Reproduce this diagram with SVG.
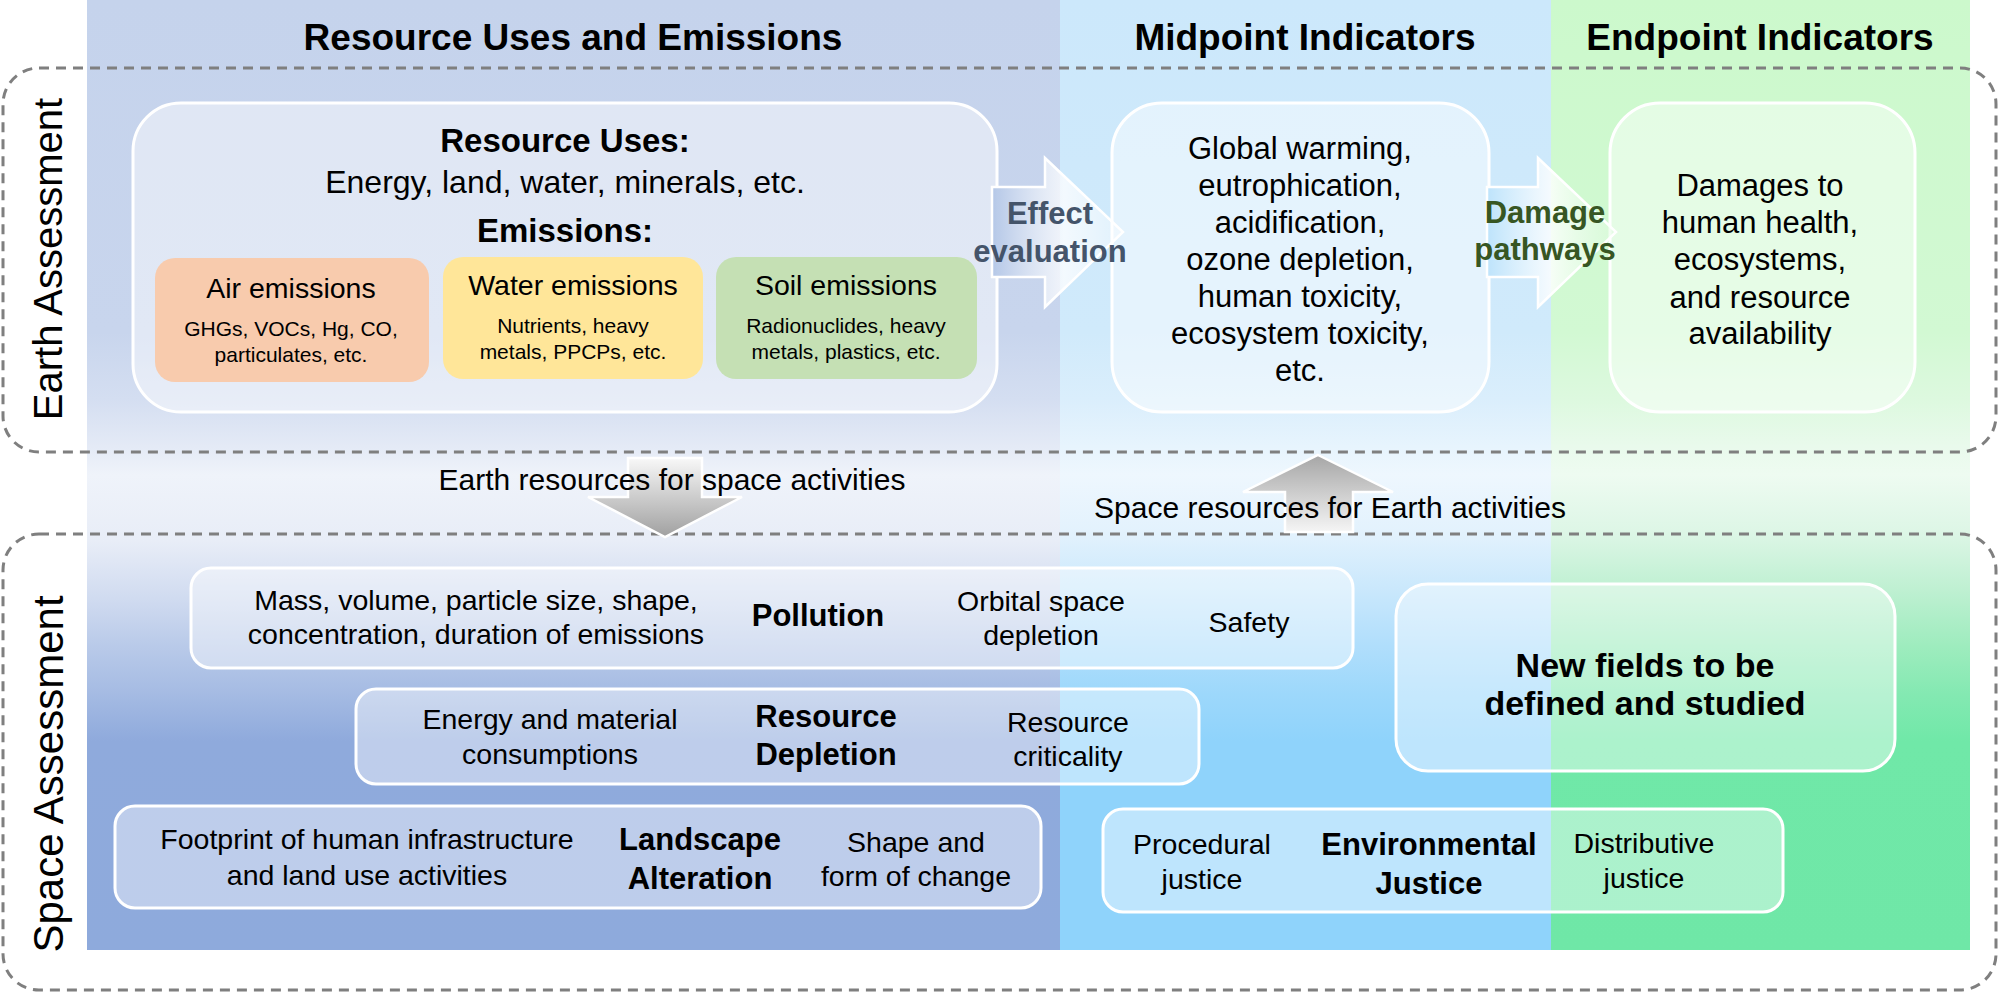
<svg xmlns="http://www.w3.org/2000/svg" width="2000" height="994" viewBox="0 0 2000 994">
<defs>
<linearGradient id="gc1" gradientUnits="userSpaceOnUse" x1="0" y1="0" x2="0" y2="950">
<stop offset="0" stop-color="#c5d3ec"/><stop offset="0.35" stop-color="#c8d5ed"/><stop offset="0.42" stop-color="#d4def1"/><stop offset="0.47" stop-color="#e4eaf6"/><stop offset="0.5" stop-color="#eff3fa"/><stop offset="0.57" stop-color="#e8edf7"/><stop offset="0.63" stop-color="#d0dbf0"/><stop offset="0.68" stop-color="#b9cae9"/><stop offset="0.73" stop-color="#a5bbe3"/><stop offset="0.78" stop-color="#8faadc"/><stop offset="1" stop-color="#8eaadc"/>
</linearGradient>
<linearGradient id="gc2" gradientUnits="userSpaceOnUse" x1="0" y1="0" x2="0" y2="950">
<stop offset="0" stop-color="#cce8fb"/><stop offset="0.35" stop-color="#d0eafb"/><stop offset="0.42" stop-color="#daeefc"/><stop offset="0.47" stop-color="#e7f4fd"/><stop offset="0.5" stop-color="#eef7fe"/><stop offset="0.56" stop-color="#e3f2fd"/><stop offset="0.62" stop-color="#cae8fc"/><stop offset="0.68" stop-color="#b0defc"/><stop offset="0.73" stop-color="#9dd8fb"/><stop offset="0.78" stop-color="#8fd3fb"/><stop offset="1" stop-color="#8fd3fb"/>
</linearGradient>
<linearGradient id="gc3" gradientUnits="userSpaceOnUse" x1="0" y1="0" x2="0" y2="950">
<stop offset="0" stop-color="#ccf9cc"/><stop offset="0.35" stop-color="#d2f9d3"/><stop offset="0.42" stop-color="#ddf9df"/><stop offset="0.47" stop-color="#e9faec"/><stop offset="0.5" stop-color="#eefbf1"/><stop offset="0.56" stop-color="#ddf6e6"/><stop offset="0.62" stop-color="#bff0d2"/><stop offset="0.68" stop-color="#9eecbe"/><stop offset="0.73" stop-color="#84e9b2"/><stop offset="0.78" stop-color="#70e8a8"/><stop offset="1" stop-color="#6fe7a7"/>
</linearGradient>
<linearGradient id="gEff" x1="0" y1="0" x2="1" y2="0">
<stop offset="0" stop-color="#b4c7e7"/><stop offset="0.55" stop-color="#ffffff" stop-opacity="0.75"/><stop offset="1" stop-color="#ffffff" stop-opacity="0.35"/>
</linearGradient>
<linearGradient id="gDam" x1="0" y1="0" x2="1" y2="0">
<stop offset="0" stop-color="#bde3fb"/><stop offset="0.5" stop-color="#ffffff" stop-opacity="0.8"/><stop offset="1" stop-color="#e0fbe0" stop-opacity="0.45"/>
</linearGradient>
<linearGradient id="gDown" x1="0" y1="0" x2="0" y2="1">
<stop offset="0" stop-color="#f8f8f8"/><stop offset="1" stop-color="#a0a0a0"/>
</linearGradient>
<linearGradient id="gUp" x1="0" y1="0" x2="0" y2="1">
<stop offset="0" stop-color="#a6a6a6"/><stop offset="1" stop-color="#f5f5f5"/>
</linearGradient>
<style>
text{font-family:"Liberation Sans",Arial,sans-serif;fill:#000;text-anchor:middle}
.hdr{font-size:37px;font-weight:bold}
.b33{font-size:33px;font-weight:bold}
.r32{font-size:32px}
.r28{font-size:28.5px}
.r21{font-size:21px}
.r31{font-size:31px}
.b31{font-size:31px;font-weight:bold}
.s28{font-size:28.5px}
.b34{font-size:34px;font-weight:bold}
.vert{font-size:40px}
.dash{fill:none;stroke:#7f7f7f;stroke-width:3;stroke-dasharray:10 7}
.box{fill:#ffffff;fill-opacity:0.45;stroke:#ffffff;stroke-width:3}
.sbox{fill:#ffffff;fill-opacity:0.42;stroke:#ffffff;stroke-width:3}
.arr{stroke:#ffffff;stroke-width:2.5}
</style>
</defs>

<g id="background">
<rect x="87" y="0" width="973" height="950" fill="url(#gc1)"/>
<rect x="1060" y="0" width="491" height="950" fill="url(#gc2)"/>
<rect x="1551" y="0" width="419" height="950" fill="url(#gc3)"/>
</g>

<g id="headers">
<text class="hdr" x="573" y="50">Resource Uses and Emissions</text>
<text class="hdr" x="1305" y="50">Midpoint Indicators</text>
<text class="hdr" x="1760" y="50">Endpoint Indicators</text>
</g>

<g id="earth-assessment">
<rect class="dash" x="3" y="68" width="1993" height="384" rx="36"/>
<text class="vert" transform="translate(62,259) rotate(-90)">Earth Assessment</text>
</g>

<g id="space-assessment">
<rect class="dash" x="3" y="534" width="1993" height="456" rx="36"/>
<text class="vert" transform="translate(63,774) rotate(-90)" style="font-size:42px">Space Assessment</text>
</g>

<g id="resource-uses">
<rect class="box" x="133" y="103" width="864" height="309" rx="48"/>
<text class="b33" x="565" y="152">Resource Uses:</text>
<text class="r32" x="565" y="193">Energy, land, water, minerals, etc.</text>
<text class="b33" x="565" y="242">Emissions:</text>
</g>

<g id="air-emissions">
<rect x="155" y="258" width="274" height="124" rx="20" fill="#f8cbad"/>
<text class="r28" x="291" y="298">Air emissions</text>
<text class="r21" x="291" y="336">GHGs, VOCs, Hg, CO,</text>
<text class="r21" x="291" y="362">particulates, etc.</text>
</g>

<g id="water-emissions">
<rect x="443" y="257" width="260" height="122" rx="20" fill="#ffe699"/>
<text class="r28" x="573" y="295">Water emissions</text>
<text class="r21" x="573" y="333">Nutrients, heavy</text>
<text class="r21" x="573" y="359">metals, PPCPs, etc.</text>
</g>

<g id="soil-emissions">
<rect x="716" y="257" width="261" height="122" rx="20" fill="#c5e0b4"/>
<text class="r28" x="846" y="295">Soil emissions</text>
<text class="r21" x="846" y="333">Radionuclides, heavy</text>
<text class="r21" x="846" y="359">metals, plastics, etc.</text>
</g>

<g id="midpoint">
<rect class="box" x="1112" y="103" width="377" height="309" rx="50"/>
<text class="r31" x="1300" y="159">Global warming,</text>
<text class="r31" x="1300" y="196">eutrophication,</text>
<text class="r31" x="1300" y="233">acidification,</text>
<text class="r31" x="1300" y="270">ozone depletion,</text>
<text class="r31" x="1300" y="307">human toxicity,</text>
<text class="r31" x="1300" y="344">ecosystem toxicity,</text>
<text class="r31" x="1300" y="381">etc.</text>
</g>

<g id="endpoint">
<rect class="box" x="1610" y="103" width="305" height="309" rx="50"/>
<text class="r31" x="1760" y="196">Damages to</text>
<text class="r31" x="1760" y="233">human health,</text>
<text class="r31" x="1760" y="270">ecosystems,</text>
<text class="r31" x="1760" y="308">and resource</text>
<text class="r31" x="1760" y="344">availability</text>
</g>

<g id="pollution">
<rect class="sbox" x="191" y="568" width="1162" height="100" rx="20"/>
<text class="s28" x="476" y="610">Mass, volume, particle size, shape,</text>
<text class="s28" x="476" y="644">concentration, duration of emissions</text>
<text class="b31" x="818" y="626">Pollution</text>
<text class="s28" x="1041" y="611">Orbital space</text>
<text class="s28" x="1041" y="645">depletion</text>
<text class="s28" x="1249" y="632">Safety</text>
</g>

<g id="resource-depletion">
<rect class="sbox" x="356" y="689" width="843" height="95" rx="20"/>
<text class="s28" x="550" y="729">Energy and material</text>
<text class="s28" x="550" y="764">consumptions</text>
<text class="b31" x="826" y="727">Resource</text>
<text class="b31" x="826" y="765">Depletion</text>
<text class="s28" x="1068" y="732">Resource</text>
<text class="s28" x="1068" y="766">criticality</text>
</g>

<g id="landscape-alteration">
<rect class="sbox" x="115" y="806" width="926" height="102" rx="20"/>
<text class="s28" x="367" y="849">Footprint of human infrastructure</text>
<text class="s28" x="367" y="885">and land use activities</text>
<text class="b31" x="700" y="850">Landscape</text>
<text class="b31" x="700" y="889">Alteration</text>
<text class="s28" x="916" y="852">Shape and</text>
<text class="s28" x="916" y="886">form of change</text>
</g>

<g id="new-fields">
<rect class="sbox" x="1396" y="584" width="499" height="187" rx="32" fill-opacity="0.65"/>
<text class="b34" x="1645" y="677">New fields to be</text>
<text class="b34" x="1645" y="715">defined and studied</text>
</g>

<g id="environmental-justice">
<rect class="sbox" x="1103" y="809" width="680" height="103" rx="20"/>
<text class="s28" x="1202" y="854">Procedural</text>
<text class="s28" x="1202" y="889">justice</text>
<text class="b31" x="1429" y="855">Environmental</text>
<text class="b31" x="1429" y="894">Justice</text>
<text class="s28" x="1644" y="853">Distributive</text>
<text class="s28" x="1644" y="888">justice</text>
</g>

<g id="connectors">
<g id="effect-evaluation">
<path class="arr" fill="url(#gEff)" d="M992,187 H1045 V158 L1123,232 L1045,307 V277 H992 Z"/>
<text class="b31" x="1050" y="224" style="fill:#44546a">Effect</text>
<text class="b31" x="1050" y="262" style="fill:#44546a">evaluation</text>
</g>
<g id="damage-pathways">
<path class="arr" fill="url(#gDam)" d="M1487,187 H1538 V158 L1616,232 L1538,307 V277 H1487 Z"/>
<text class="b31" x="1545" y="223" style="fill:#375623">Damage</text>
<text class="b31" x="1545" y="260" style="fill:#375623">pathways</text>
</g>
<g id="earth-to-space">
<path class="arr" fill="url(#gDown)" d="M628,458 H702 V497 H742 L665,537 L588,497 H628 Z"/>
<text class="s28" x="672" y="490" style="font-size:30px">Earth resources for space activities</text>
</g>
<g id="space-to-earth">
<path class="arr" fill="url(#gUp)" d="M1318,455 L1393,492 H1353 V532 H1285 V492 H1243 Z"/>
<text class="s28" x="1330" y="518" style="font-size:30px">Space resources for Earth activities</text>
</g>
</g>
</svg>
